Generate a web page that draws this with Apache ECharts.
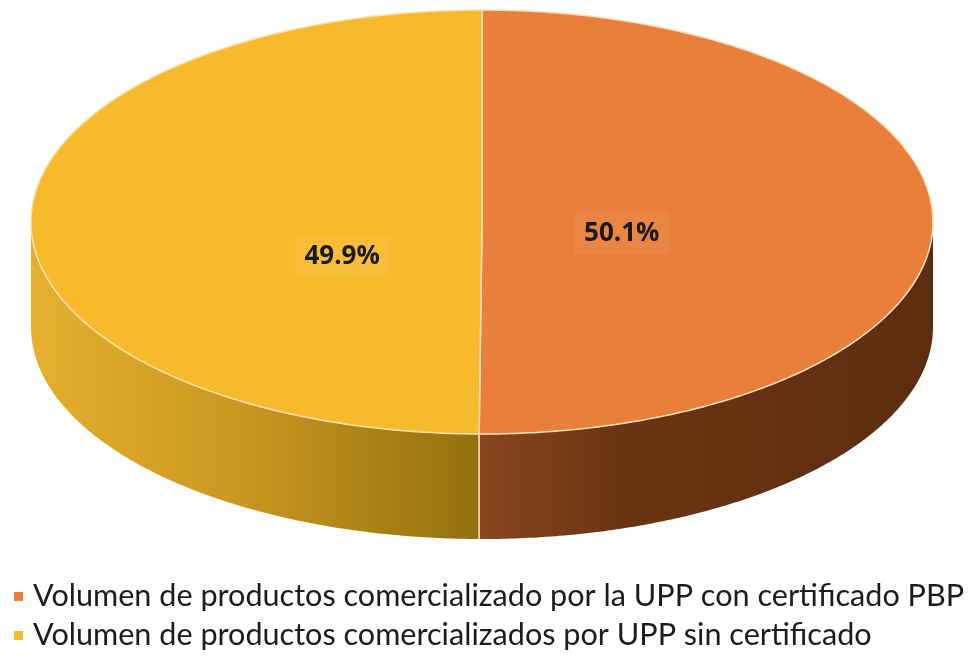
<!DOCTYPE html>
<html>
<head>
<meta charset="utf-8">
<style>html,body{margin:0;padding:0;background:#fff}#main{width:970px;height:657px}</style>
<script src="https://cdn.jsdelivr.net/npm/echarts@6/dist/echarts.min.js"></script>
</head>
<body>
<div id="main"></div>
<script>
// data
const categories = [
    'Volumen de productos comercializado por la UPP con certificado PBP',
    'Volumen de productos comercializados por UPP sin certificado'
];
const values = [50.1, 49.9];
const labels = ['50.1%', '49.9%'];

// styles / layout
const topColors = ['#E97F3A', '#F7BA2C'];
const wallStops = [
    [[0, '#89461F'], [0.3, '#6B3513'], [1, '#5C2D10']],
    [[0, '#E4B02E'], [0.5, '#C8951F'], [1, '#92700F']]
];
const labelShift = [11, 35];
const cx = 482, cy = 222, rx = 451, ry = 212, depth = 105;

const total = values.reduce((a, b) => a + b, 0);

const arcPts = (a0, a1, dy) => {
    const pts = [];
    const n = Math.max(2, Math.ceil(Math.abs(a1 - a0) / 0.01));
    for (let i = 0; i <= n; i++) {
        const a = a0 + (a1 - a0) * i / n;
        pts.push([cx + rx * Math.cos(a), cy + ry * Math.sin(a) + dy]);
    }
    return pts;
};

const makeSeries = (idx) => ({
    type: 'custom',
    name: categories[idx],
    coordinateSystem: 'none',
    itemStyle: {color: topColors[idx]},
    data: [values[idx]],
    renderItem: (params, api) => {
        const before = values.slice(0, idx).reduce((a, b) => a + b, 0);
        const a0 = -Math.PI / 2 + before / total * 2 * Math.PI;
        const a1 = a0 + api.value(0) / total * 2 * Math.PI;
        const children = [];
        // side wall (front half only)
        [[0, Math.PI], [2 * Math.PI, 3 * Math.PI]].forEach(([f0, f1]) => {
            const s = Math.max(a0, f0), e = Math.min(a1, f1);
            if (e <= s) return;
            const top = arcPts(s, e, 0);
            const bottom = arcPts(e, s, depth);
            const xs = top.map(p => p[0]);
            const xmin = Math.min(...xs), xmax = Math.max(...xs);
            children.push({
                type: 'polygon',
                z2: 1,
                shape: {points: top.concat(bottom)},
                style: {
                    fill: {
                        type: 'linear', global: true,
                        x: xmin, y: 0, x2: xmax, y2: 0,
                        colorStops: wallStops[idx].map(s => ({offset: s[0], color: s[1]}))
                    },
                    stroke: null
                }
            });
        });
        // top face
        children.push({
            type: 'polygon',
            z2: 2,
            shape: {points: [[cx, cy]].concat(arcPts(a0, a1, 0))},
            style: {fill: topColors[idx], stroke: '#FBE2B6', lineWidth: 1.5}
        });
        // edge line on the wall at the slice boundary
        [a0, a1].forEach(a => {
            const sa = Math.sin(a);
            if (sa > 0.999) {
                const x = cx + rx * Math.cos(a), y = cy + ry * sa;
                children.push({
                    type: 'line', z2: 3,
                    shape: {x1: x, y1: y, x2: x, y2: y + depth},
                    style: {stroke: '#F3D2A0', lineWidth: 1.5}
                });
            }
        });
        // label
        const mid = (a0 + a1) / 2;
        children.push({
            type: 'text',
            z2: 4,
            style: {
                text: labels[idx],
                x: cx + 0.31 * rx * Math.cos(mid),
                y: cy + 0.31 * ry * Math.sin(mid) + labelShift[idx],
                align: 'center',
                verticalAlign: 'middle',
                fill: '#1A1A1A',
                font: 'bold 26px "Open Sans", sans-serif',
                backgroundColor: 'rgba(255,255,255,0.05)',
                padding: [8, 10]
            }
        });
        return {type: 'group', children: children};
    }
});

const chart = echarts.init(document.getElementById('main'));
chart.setOption({
    animation: false,
    legend: {
        orient: 'vertical',
        left: 9,
        top: 576,
        padding: [5, 5],
        icon: 'rect',
        itemWidth: 9,
        itemHeight: 9,
        itemGap: 8,
        textStyle: {fontSize: 30.6, color: '#1C1C1C', fontFamily: 'Lato', padding: [0, 0, 0, 5]},
        data: categories
    },
    series: [makeSeries(0), makeSeries(1)]
});
window.addEventListener('resize', () => chart.resize());
</script>
</body>
</html>
